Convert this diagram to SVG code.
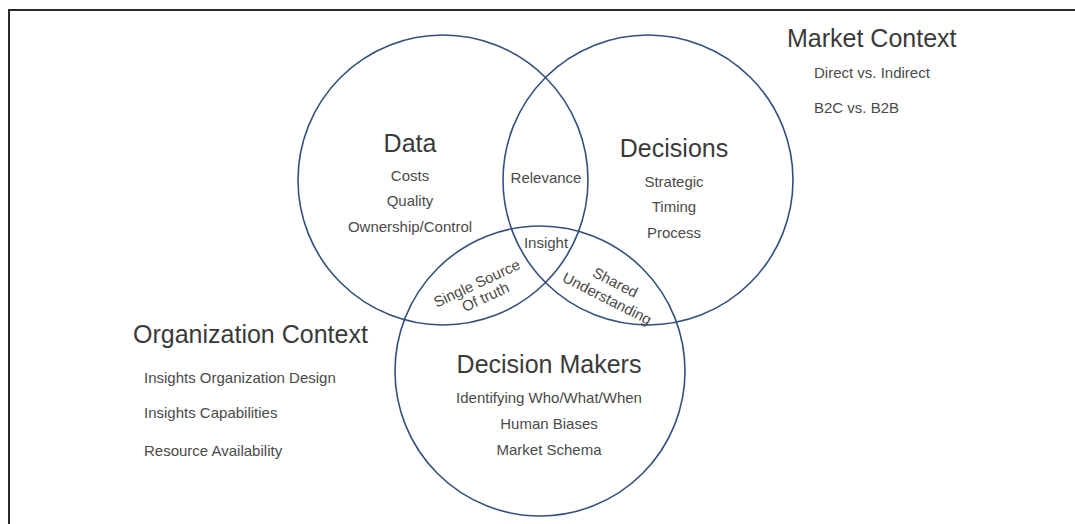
<svg xmlns="http://www.w3.org/2000/svg" width="1075" height="524" viewBox="0 0 1075 524">
  <style>
    .ring { fill: none; stroke: #34507f; stroke-width: 1.6; }
    .title { font-family: "Liberation Sans", Arial, sans-serif; font-size: 25px; fill: #3a3a3a; }
    .item { font-family: "Liberation Sans", Arial, sans-serif; font-size: 15px; fill: #4a4a4a; }
    .mid { text-anchor: middle; }
    .frame { fill: none; stroke: #2a2a2a; stroke-width: 2; }
  </style>
  <rect width="1075" height="524" fill="#ffffff"/>
  <polyline class="frame" points="9,524 9,10 1075,10"/>

  <g id="data">
    <circle class="ring" cx="443" cy="180" r="145"/>
    <text class="title mid" x="410" y="152">Data</text>
    <text class="item mid" x="410" y="181">Costs</text>
    <text class="item mid" x="410" y="206">Quality</text>
    <text class="item mid" x="410" y="232">Ownership/Control</text>
  </g>

  <g id="decisions">
    <circle class="ring" cx="648" cy="180" r="145"/>
    <text class="title mid" x="674" y="157">Decisions</text>
    <text class="item mid" x="674" y="187">Strategic</text>
    <text class="item mid" x="674" y="212">Timing</text>
    <text class="item mid" x="674" y="238">Process</text>
  </g>

  <g id="decision-makers">
    <circle class="ring" cx="540" cy="371" r="145"/>
    <text class="title mid" x="549" y="373">Decision Makers</text>
    <text class="item mid" x="549" y="403">Identifying Who/What/When</text>
    <text class="item mid" x="549" y="429">Human Biases</text>
    <text class="item mid" x="549" y="455">Market Schema</text>
  </g>

  <g id="overlaps">
    <text class="item mid" x="546" y="183">Relevance</text>
    <text class="item mid" x="546" y="248">Insight</text>
    <g transform="translate(479,288) rotate(-25)">
      <text class="item mid" x="0" y="0">Single Source</text>
      <text class="item mid" x="2" y="16">Of truth</text>
    </g>
    <g transform="translate(613,287) rotate(27)">
      <text class="item mid" x="0" y="0">Shared</text>
      <text class="item mid" x="0" y="18">Understanding</text>
    </g>
  </g>

  <g id="market-context">
    <text class="title" x="787" y="47">Market Context</text>
    <text class="item" x="814" y="78">Direct vs. Indirect</text>
    <text class="item" x="814" y="113">B2C vs. B2B</text>
  </g>

  <g id="organization-context">
    <text class="title" x="133" y="343">Organization Context</text>
    <text class="item" x="144" y="383">Insights Organization Design</text>
    <text class="item" x="144" y="418">Insights Capabilities</text>
    <text class="item" x="144" y="456">Resource Availability</text>
  </g>

  <g id="connectors"></g>
</svg>
